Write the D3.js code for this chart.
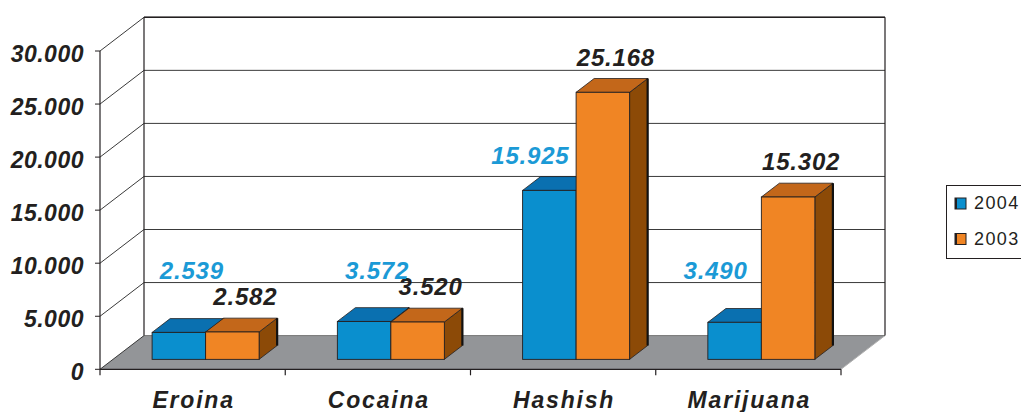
<!DOCTYPE html>
<html>
<head>
<meta charset="utf-8">
<script src="https://cdn.jsdelivr.net/npm/d3@7/dist/d3.min.js"></script>
<style>
  html, body { margin: 0; padding: 0; background: #ffffff; }
  svg { display: block; }
  text { font-family: "Liberation Sans", Arial, Helvetica, sans-serif; }
</style>
</head>
<body>
<svg id="chart" width="1021" height="412"></svg>
<script>
// ---- data ----
const categories = ["Eroina", "Cocaina", "Hashish", "Marijuana"];
const seriesNames = ["2004", "2003"];
const values2004 = [2539, 3572, 15925, 3490];
const values2003 = [2582, 3520, 25168, 15302];
const yTicks = [0, 5000, 10000, 15000, 20000, 25000, 30000];
const yTickLabels = ["0", "5.000", "10.000", "15.000", "20.000", "25.000", "30.000"];
const valueLabels2004 = ["2.539", "3.572", "15.925", "3.490"];
const valueLabels2003 = ["2.582", "3.520", "25.168", "15.302"];

// ---- layout ----
const svg = d3.select("#chart");
const W = 1021, H = 412;
svg.append("rect").attr("width", W).attr("height", H).attr("fill", "#fff");

const x = d3.scaleBand().domain(categories).range([100, 841]).padding(0);
const y = d3.scaleLinear().domain([0, 30000]).range([369.3, 51]);
const DX = 44, DY = -33.7;           // full depth offset of the 3D box
const frontF = 0.295, depthF = 0.41; // bar position inside depth
const barW = 53.5;

const ink = "#231f20";
const grid = "#3a3a3a";

// floor
const y0 = y(0);
svg.append("polygon")
  .attr("points", [[100, y0], [841, y0], [841 + DX, y0 + DY], [100 + DX, y0 + DY]].map(p => p.join(",")).join(" "))
  .attr("fill", "#939598").attr("stroke", "none");
svg.append("line").attr("x1", 841).attr("y1", y0).attr("x2", 841 + DX).attr("y2", y0 + DY)
  .attr("stroke", "#b0b0b0").attr("stroke-width", 1);

// back wall gridlines + left wall diagonals
yTicks.forEach(t => {
  const yy = y(t);
  svg.append("line").attr("x1", 100 + DX).attr("x2", 841 + DX).attr("y1", yy + DY).attr("y2", yy + DY)
    .attr("stroke", t > 0 ? grid : "#777").attr("stroke-width", 1);
  svg.append("line").attr("x1", 100).attr("y1", yy).attr("x2", 100 + DX).attr("y2", yy + DY)
    .attr("stroke", grid).attr("stroke-width", 1);
  svg.append("line").attr("x1", 95).attr("x2", 100).attr("y1", yy).attr("y2", yy)
    .attr("stroke", ink).attr("stroke-width", 1);
});
// wall frame
svg.append("line").attr("x1", 100 + DX).attr("x2", 100 + DX).attr("y1", y(30000) + DY).attr("y2", y0 + DY)
  .attr("stroke", ink).attr("stroke-width", 1.2);
svg.append("line").attr("x1", 841 + DX).attr("x2", 841 + DX).attr("y1", y(30000) + DY).attr("y2", y0 + DY)
  .attr("stroke", ink).attr("stroke-width", 1.2);
svg.append("line").attr("x1", 100 + DX).attr("x2", 841 + DX).attr("y1", y(30000) + DY).attr("y2", y(30000) + DY)
  .attr("stroke", ink).attr("stroke-width", 1.5);
// y axis line
svg.append("line").attr("x1", 100).attr("x2", 100).attr("y1", y(30000)).attr("y2", y0)
  .attr("stroke", ink).attr("stroke-width", 1.2);
// x axis line + ticks
svg.append("line").attr("x1", 100).attr("x2", 841).attr("y1", y0).attr("y2", y0)
  .attr("stroke", ink).attr("stroke-width", 1.2);
const xEdges = categories.map(c => x(c)).concat([x(categories[categories.length - 1]) + x.bandwidth()]);
xEdges.forEach(e => {
  svg.append("line").attr("x1", e).attr("x2", e).attr("y1", y0).attr("y2", y0 + 6)
    .attr("stroke", ink).attr("stroke-width", 1.2);
});

// y labels
yTicks.forEach((t, i) => {
  svg.append("text").attr("x", 84).attr("y", y(t) + 11)
    .attr("text-anchor", "end").attr("font-size", 23).attr("font-weight", "bold")
    .attr("font-style", "italic").attr("letter-spacing", 0.5).attr("fill", ink)
    .text(yTickLabels[i]);
});

// category labels
categories.forEach(c => {
  svg.append("text").attr("x", x(c) + x.bandwidth() / 2 + 1).attr("y", 408)
    .attr("text-anchor", "middle").attr("font-size", 23).attr("font-weight", "bold")
    .attr("font-style", "italic").attr("letter-spacing", 1.8).attr("fill", ink)
    .text(c);
});

// bars
const fx = DX * frontF, fy = DY * frontF;
const bdx = DX * depthF, bdy = DY * depthF;
const palettes = [
  { front: "#0a8fce", top: "#0a70b0", side: "#06527f" },
  { front: "#f08524", top: "#c3671a", side: "#8c4a07" }
];
const seriesVals = [values2004, values2003];
const barGeom = [];
categories.forEach((c, i) => {
  const cx = x(c) + x.bandwidth() / 2 + fx;
  seriesVals.forEach((vals, s) => {
    const x0 = cx - barW + s * barW, x1 = x0 + barW;
    const yb = y(0) + fy, yt = y(vals[i]) + fy;
    const p = palettes[s];
    const g = svg.append("g");
    g.append("polygon")
      .attr("points", [[x1, yt], [x1 + bdx, yt + bdy], [x1 + bdx, yb + bdy], [x1, yb]].map(q => q.join(",")).join(" "))
      .attr("fill", p.side).attr("stroke", ink).attr("stroke-width", 0.8);
    g.append("polygon")
      .attr("points", [[x0, yt], [x1, yt], [x1 + bdx, yt + bdy], [x0 + bdx, yt + bdy]].map(q => q.join(",")).join(" "))
      .attr("fill", p.top).attr("stroke", ink).attr("stroke-width", 0.8);
    g.append("rect").attr("x", x0).attr("y", yt).attr("width", barW).attr("height", yb - yt)
      .attr("fill", p.front).attr("stroke", ink).attr("stroke-width", 0.9);
    g.append("line").attr("x1", x1 + bdx).attr("x2", x1 + bdx).attr("y1", yt + bdy).attr("y2", yb + bdy)
      .attr("stroke", "#111").attr("stroke-width", 2.2);
    barGeom.push({ i, s, x0, x1, yt, cxTop: (x0 + x1) / 2 + bdx / 2, backTop: yt + bdy });
  });
});

// value labels
const labelFont = { size: 24, ls: 0.8 };
const blueFloor = y(5000) + DY - 4;  // blue labels stay above the 5.000 gridline
categories.forEach((c, i) => {
  const b = barGeom.find(g => g.i === i && g.s === 0);
  const o = barGeom.find(g => g.i === i && g.s === 1);
  const oX = o.cxTop + 4, oY = o.backTop - 13;
  let bX = b.cxTop + 4, bY = Math.min(b.backTop - 13, blueFloor);
  if (o.backTop < bY - 10) bX -= 32;   // taller neighbour: move label left
  svg.append("text").attr("x", oX).attr("y", oY).attr("text-anchor", "middle")
    .attr("font-size", labelFont.size).attr("font-weight", "bold").attr("font-style", "italic")
    .attr("letter-spacing", labelFont.ls).attr("fill", ink).text(valueLabels2003[i]);
  svg.append("text").attr("x", bX).attr("y", bY).attr("text-anchor", "middle")
    .attr("font-size", labelFont.size).attr("font-weight", "bold").attr("font-style", "italic")
    .attr("letter-spacing", labelFont.ls).attr("fill", "#1b9ad6").text(valueLabels2004[i]);
});

// legend
const lg = svg.append("g");
lg.append("rect").attr("x", 946.5).attr("y", 185.5).attr("width", 90).attr("height", 73)
  .attr("fill", "#fff").attr("stroke", ink).attr("stroke-width", 1);
seriesNames.forEach((n, k) => {
  const yy = 198 + k * 35.5;
  lg.append("rect").attr("x", 955).attr("y", yy).attr("width", 11).attr("height", 11)
    .attr("fill", palettes[k].front).attr("stroke", ink).attr("stroke-width", 1);
  lg.append("rect").attr("x", 955).attr("y", yy).attr("width", 2).attr("height", 11).attr("fill", ink);
  lg.append("text").attr("x", 974).attr("y", yy + 11.3).attr("font-size", 18)
    .attr("letter-spacing", 1.4).attr("fill", ink).text(n);
});
</script>
</body>
</html>
